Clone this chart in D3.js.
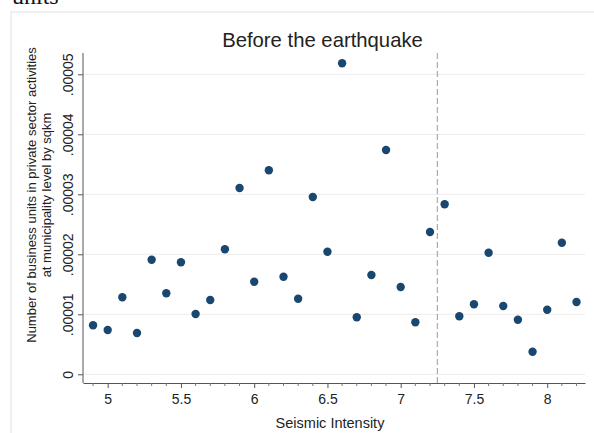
<!DOCTYPE html>
<html><head><meta charset="utf-8">
<script src="https://cdn.jsdelivr.net/npm/d3@7"></script>
<style>html,body{margin:0;padding:0;background:#fff;}svg{display:block;}</style>
</head><body>
<svg id="c" width="594" height="433"></svg>
<script>
const intensity = [4.9,5.0,5.1,5.2,5.3,5.4,5.5,5.6,5.7,5.8,5.9,6.0,6.1,6.2,6.3,6.4,6.5,6.6,6.7,6.8,6.9,7.0,7.1,7.2,7.3,7.4,7.5,7.6,7.7,7.8,7.9,8.0,8.1,8.2];
const units = [0.817,0.738,1.283,0.688,1.91,1.35,1.867,1.005,1.238,2.083,3.105,1.543,3.40,1.627,1.26,2.955,2.043,5.183,0.95,1.655,3.738,1.455,0.867,2.372,2.833,0.967,1.167,2.027,1.138,0.91,0.377,1.077,2.193,1.205].map(v => v*1e-5);
const xTicks = [5,5.5,6,6.5,7,7.5,8];
const yTicks = [0,0.00001,0.00002,0.00003,0.00004,0.00005];
const cutoff = 7.25;
const title = "Before the earthquake";
const xTitle = "Seismic Intensity";
const yTitle = ["Number of business units in private sector activities","at municipality level by sqkm"];

const svg = d3.select("#c");
const font = "'Liberation Sans', Arial, sans-serif";
const L = 83, R = 585, T = 53, B = 383;
const x = d3.scaleLinear().domain([4.8314, 8.258]).range([L, R]);
const y = d3.scaleLinear().domain([0, 5.355e-5]).range([374.3, T]);

// outer frame
svg.append("rect").attr("x",11).attr("y",12).attr("width",600).attr("height",440)
  .attr("fill","none").attr("stroke","#e6e6e6").attr("stroke-width",1.2);
// cropped caption text (cut off at the top in the reference too)
svg.append("text").attr("x",12).attr("y",4).attr("font-family","'Liberation Serif', 'DejaVu Serif', serif")
  .attr("font-size",24).attr("fill","#111").text("units");

// gridlines
svg.append("g").selectAll("line").data(yTicks).join("line")
  .attr("x1",L).attr("x2",R).attr("y1",d=>y(d)).attr("y2",d=>y(d))
  .attr("stroke","#ececec").attr("stroke-width",1);

// cutoff line
svg.append("line").attr("x1",x(cutoff)).attr("x2",x(cutoff)).attr("y1",T).attr("y2",B)
  .attr("stroke","#9a9a9a").attr("stroke-width",1).attr("stroke-dasharray","6,3");

// axes
const fmt = d => d === 0 ? "0" : d3.format(".5f")(d).replace(/^0/, "");
const xAxis = svg.append("g").attr("transform",`translate(0,${B})`)
  .call(d3.axisBottom(x).tickValues(xTicks).tickSize(5).tickSizeOuter(0).tickFormat(d3.format("")));
xAxis.select(".domain").attr("stroke","#555");
xAxis.selectAll(".tick line").attr("stroke","#555");
xAxis.selectAll(".tick text").attr("font-family",font).attr("font-size",14).attr("fill","#222").attr("dy","0.95em");
const minor = d3.range(49,83).map(v=>v/10).filter(v=>!xTicks.some(t=>Math.abs(t-v)<1e-9));
svg.append("g").selectAll("line").data(minor).join("line")
  .attr("x1",d=>x(d)).attr("x2",d=>x(d)).attr("y1",B).attr("y2",B+3)
  .attr("stroke","#777").attr("stroke-width",1);

const yAxis = svg.append("g").attr("transform",`translate(${L},0)`)
  .call(d3.axisLeft(y).tickValues(yTicks).tickSize(5).tickSizeOuter(0).tickFormat(fmt));
yAxis.select(".domain").attr("stroke","#555").attr("d",`M0,${T}V${B}`);
yAxis.selectAll(".tick line").attr("stroke","#555");
yAxis.selectAll(".tick text").attr("font-family",font).attr("font-size",14).attr("fill","#222")
  .attr("text-anchor","middle").attr("x",0).attr("dy",0)
  .attr("transform","translate(-10,0) rotate(-90)");

// points
svg.append("g").selectAll("circle").data(intensity).join("circle")
  .attr("cx",d=>x(d)).attr("cy",(d,i)=>y(units[i])).attr("r",4.2)
  .attr("fill","#1a476f");

// titles
svg.append("text").attr("x",322.5).attr("y",47).attr("text-anchor","middle")
  .attr("font-family",font).attr("font-size",20.3).attr("fill","#222").text(title);
svg.append("text").attr("x",330).attr("y",428).attr("text-anchor","middle")
  .attr("font-family",font).attr("font-size",14.5).attr("fill","#222").text(xTitle);
svg.append("g").attr("transform","translate(0,195)").selectAll("text").data(yTitle).join("text")
  .attr("transform",(d,i)=>`translate(${36+i*15},0) rotate(-90)`).attr("text-anchor","middle")
  .attr("font-family",font).attr("font-size",13).attr("fill","#222").text(d=>d);
</script>
</body></html>
